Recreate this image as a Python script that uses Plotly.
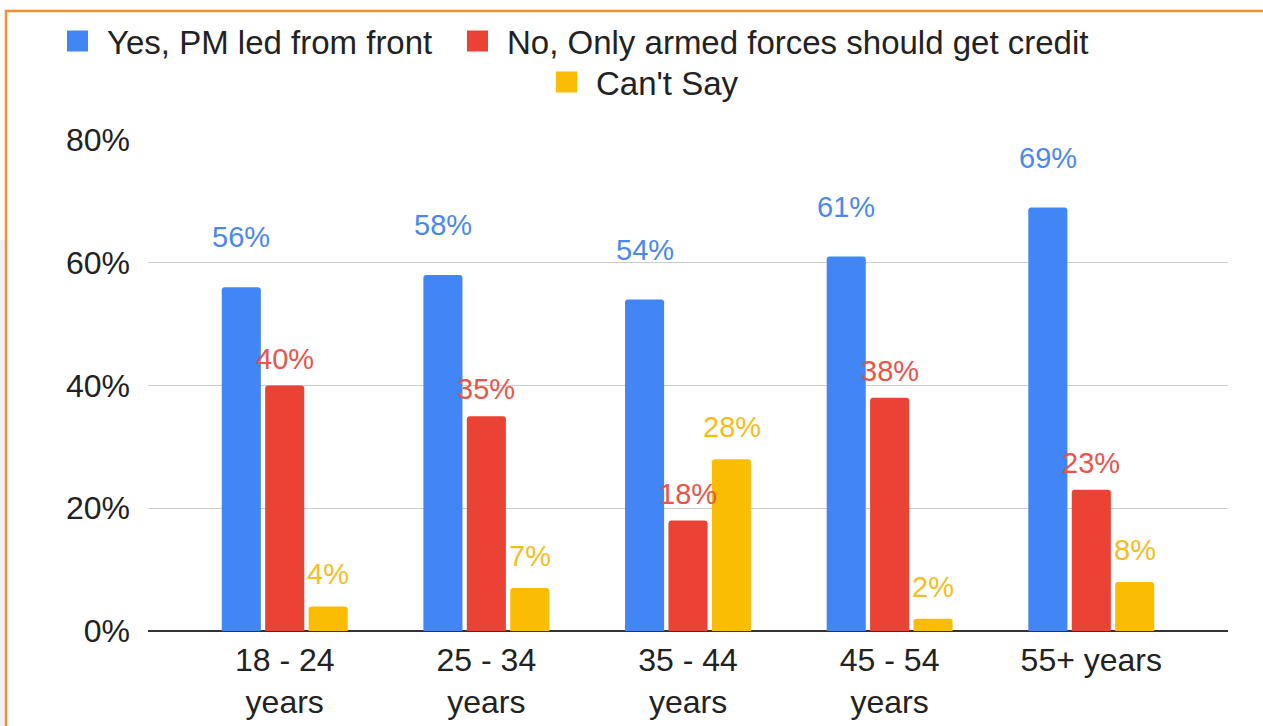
import plotly.graph_objects as go

# ---- data ----
categories = ["18 - 24<br>years", "25 - 34<br>years", "35 - 44<br>years", "45 - 54<br>years", "55+ years"]
series_names = ["Yes, PM led from front", "No, Only armed forces should get credit", "Can't Say"]
yes_pm_led = [56, 58, 54, 61, 69]
no_armed_forces = [40, 35, 18, 38, 23]
cant_say = [4, 7, 28, 2, 8]
y_tick_values = [0, 20, 40, 60, 80]
y_tick_labels = ["0%", "20%", "40%", "60%", "80%"]

# ---- styles ----
colors = ["#4285F4", "#EA4335", "#FBBC04"]
label_colors = ["#4A88F0", "#E8554A", "#F7BD1E"]
label_yshift = [50, 27, 32]
label_xshift = [-43.5, 0, 43.5]
legend_px = [(48, 41), (448, 41), (537, 82)]
FONT = "Liberation Sans, Arial, Helvetica, sans-serif"

series_values = [yes_pm_led, no_armed_forces, cant_say]

W, H = 1263, 726
ml, mr, mt, mb = 148, 35, 140, 95
pw, ph = W - ml - mr, H - mt - mb

fig = go.Figure()
for i, (name, vals) in enumerate(zip(series_names, series_values)):
    fig.add_trace(go.Bar(
        x=categories, y=vals, name=name, showlegend=False,
        marker=dict(color=colors[i], line=dict(width=0), cornerradius=3),
    ))
# legend entries
legend_ids = ["legend", "legend2", "legend3"]
for i, name in enumerate(series_names):
    fig.add_trace(go.Scatter(
        x=[None], y=[None], mode="markers", name=name, legend=legend_ids[i],
        marker=dict(symbol="square", size=16, color=colors[i], line=dict(width=5, color=colors[i])),
        hoverinfo="skip",
    ))

annotations = []
for i, vals in enumerate(series_values):
    for cat, v in zip(categories, vals):
        annotations.append(dict(
            x=cat, y=v, xref="x", yref="y", text=f"{v}%", showarrow=False,
            xanchor="center", yanchor="middle", xshift=label_xshift[i], yshift=label_yshift[i],
            font=dict(family=FONT, size=29, color=label_colors[i]),
        ))

legend_common = dict(xref="container", yref="container", xanchor="left", yanchor="middle",
                     orientation="h", bgcolor="rgba(0,0,0,0)", borderwidth=0, itemwidth=49,
                     font=dict(family=FONT, size=33, color="#222222"), itemclick=False)
layout_legends = {}
for lid, (lx, ly) in zip(legend_ids, legend_px):
    layout_legends[lid] = dict(legend_common, x=lx / W, y=1 - ly / H)


def px_x(x):
    return (x - ml) / pw


def px_y(y):
    return (H - mb - y) / ph


shapes = [
    # faint gray strip at left edge
    dict(type="rect", xref="paper", yref="paper", x0=px_x(-5), x1=px_x(5), y0=px_y(760), y1=px_y(240),
         fillcolor="#F0F1F3", line=dict(width=0), layer="below"),
    # orange frame
    dict(type="rect", xref="paper", yref="paper", x0=px_x(6), x1=px_x(1300), y0=px_y(780), y1=px_y(11),
         fillcolor="rgba(0,0,0,0)", line=dict(color="#F0922E", width=2.5)),
]

fig.update_layout(
    width=W, height=H, autosize=False,
    margin=dict(l=ml, r=mr, t=mt, b=mb, autoexpand=False),
    paper_bgcolor="white", plot_bgcolor="white",
    barmode="group", bargap=0.354, bargroupgap=0.1,
    font=dict(family=FONT, color="#222222"),
    annotations=annotations, shapes=shapes,
    **layout_legends,
    xaxis=dict(range=[-0.678, 4.678], showgrid=False, zeroline=False, showline=False,
               tickfont=dict(family=FONT, size=32, color="#222222"), ticklabelstandoff=7,
               automargin=False, fixedrange=True),
    yaxis=dict(range=[0, 80], tickvals=y_tick_values, ticktext=y_tick_labels,
               showgrid=True, gridcolor="#CCCCCC", gridwidth=1,
               zeroline=True, zerolinecolor="#333333", zerolinewidth=1.5,
               showline=False, tickfont=dict(family=FONT, size=32, color="#222222"),
               ticklabelstandoff=17, automargin=False, fixedrange=True),
)

fig.write_html("out.html", config={"displayModeBar": False},
               post_script="document.body.style.margin='0';")
